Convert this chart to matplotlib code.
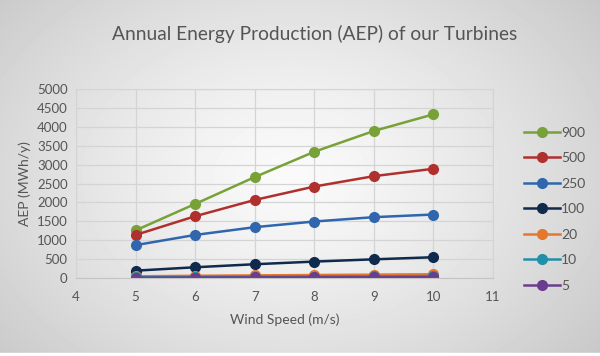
import numpy as np
import matplotlib
matplotlib.use("Agg")
import matplotlib.pyplot as plt
from matplotlib.patches import Rectangle

plt.rcParams['font.family'] = ['Lato', 'DejaVu Sans']

wind_speed = [5, 6, 7, 8, 9, 10]
series_names = ["900", "500", "250", "100", "20", "10", "5"]
aep_900 = [1260, 1960, 2670, 3340, 3890, 4330]
aep_500 = [1140, 1635, 2065, 2420, 2695, 2890]
aep_250 = [870, 1140, 1345, 1495, 1610, 1680]
aep_100 = [195, 285, 365, 435, 495, 550]
aep_20 = [45, 60, 70, 80, 90, 100]
aep_10 = [22, 30, 35, 40, 45, 50]
aep_5 = [10, 13, 16, 18, 20, 22]
colors = ["#78a237", "#b0302e", "#2f66ad", "#0f2a4d", "#e5782a", "#2190a8", "#6a3d8e"]

txt = "#555555"

fig = plt.figure(figsize=(6, 3.56), dpi=100)

# background: light radial gradient
bg = fig.add_axes([0, 0, 1, 1], zorder=-2)
yy, xx = np.mgrid[0:356, 0:600]
r = np.sqrt(((xx - 290) / 400.0) ** 2 + ((yy - 175) / 290.0) ** 2)
shade = 0.98 - 0.2 * np.clip(r, 0, 1.2) ** 1.3
bg.imshow(shade, cmap="gray", vmin=0, vmax=1, aspect="auto", extent=[0, 1, 0, 1])
bg.axis("off")
bg.add_patch(Rectangle((0, 0), 1, 3 / 356, color="white", transform=bg.transAxes))

ax = fig.add_axes([0.1267, 0.219, 0.695, 0.531])
ax.patch.set_alpha(0)

all_series = [aep_900, aep_500, aep_250, aep_100, aep_20, aep_10, aep_5]
for name, vals, c in zip(series_names, all_series, colors):
    ax.plot(wind_speed, vals, color=c, lw=1.8, marker="o", markersize=7, label=name)

ax.set_xlim(4, 11)
ax.set_ylim(0, 5000)
ax.set_xticks(range(4, 12))
ax.set_yticks(range(0, 5001, 500))
ax.grid(True, color="#d4d4d4", lw=0.9)
ax.set_axisbelow(True)
for s in ax.spines.values():
    s.set_color("#d4d4d4")
ax.spines['bottom'].set_color("#c4c4c4")
ax.tick_params(length=0, colors=txt, labelsize=9.5)
ax.tick_params(axis="x", pad=9)
ax.tick_params(axis="y", pad=6)

ax.set_xlabel("Wind Speed (m/s)", color=txt, fontsize=10, labelpad=8)
ax.set_ylabel("AEP (MWh/y)", color=txt, fontsize=10, labelpad=4)

fig.text(0.525, 0.905, "Annual Energy Production (AEP) of our Turbines",
         ha="center", va="center", fontsize=13.8, color=txt)

leg = ax.legend(loc="upper left", bbox_to_anchor=(1.06, 0.83), frameon=False,
                fontsize=10, handlelength=2.6, handletextpad=0.1,
                labelspacing=0.97, borderaxespad=0)
for t in leg.get_texts():
    t.set_color(txt)

fig.savefig("out.png", dpi=100)
